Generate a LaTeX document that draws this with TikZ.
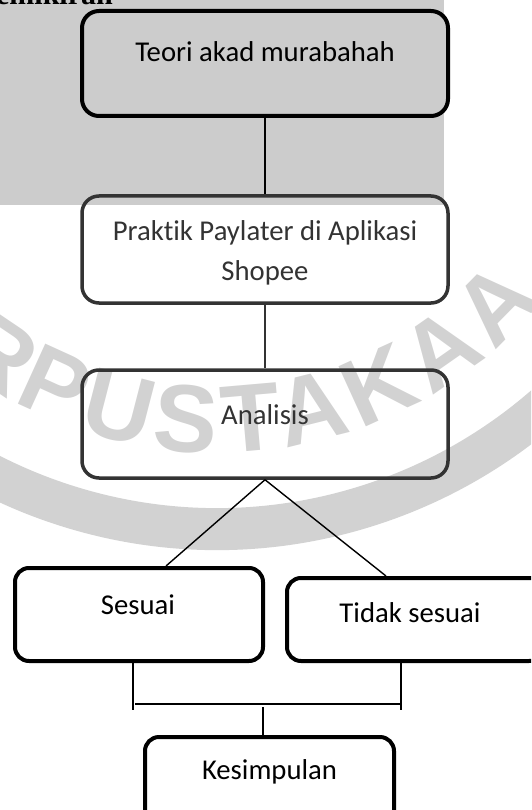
\documentclass[tikz,border=0pt]{standalone}
\usepackage{fontspec}
\setmainfont{Carlito}[Ligatures=NoCommon]
\newfontfamily\serifbold{Liberation Serif}
\newfontfamily\wmfont{Liberation Sans}
\usetikzlibrary{calc}
\definecolor{bggrey}{RGB}{204,204,204}
\definecolor{wmgrey}{RGB}{210,210,210}
\definecolor{dk}{RGB}{51,51,51}
\begin{document}
\begin{tikzpicture}[x=1pt,y=1pt,
  box/.style={draw, line width=4pt, rounded corners=17pt, inner sep=0pt},
  smallbox/.style={box, rounded corners=14pt},
  txt/.style={font=\fontsize{28.7}{40}\selectfont, inner sep=0pt, align=center},
  conn/.style={line width=1.4pt},
  wm/.style={font=\wmfont\bfseries\fontsize{96}{96}\selectfont, text=wmgrey, inner sep=0pt}]
\useasboundingbox (0,0) rectangle (531,-810);
\clip (0,0) rectangle (531,-810);
\fill[bggrey] (0,0) rectangle (444,-205);
\node[font=\serifbold\bfseries\fontsize{30}{30}\selectfont, anchor=base east, inner sep=0pt] (head) at (113,-5) {Pemikiran};
% watermark
\coordinate (wc) at (217,-30);
\fill[wmgrey] ($(wc)+(-160:520)$) arc[start angle=-160, end angle=-20, radius=520]
  -- ($(wc)+(-20:478)$) arc[start angle=-20, end angle=-160, radius=478] -- cycle;
\foreach \ch/\a [count=\i] in {R/-124, P/-114.5, U/-104.5, S/-94.5, T/-85, A/-76, K/-65.5, A/-55, A/-44.5}
  \node[wm, rotate=\a+90] (wm\i) at ($(wc)+(\a:390)$) {\ch};
% boxes
\node[box, fill=bggrey, minimum width=366, minimum height=105] (teori) at (265,-63.5) {};
\node[txt] (teoriT) at (265,-52) {Teori akad murabahah};
\node[box, draw=dk, line width=3.5pt, minimum width=366, minimum height=107] (praktik) at (265,-249.5) {};
\node[txt, text=dk] (praktikT) at (265,-253) {Praktik Paylater di Aplikasi\\Shopee};
\node[box, draw=dk, line width=3.5pt, minimum width=366, minimum height=108] (analisis) at (265,-424) {};
\node[txt, text=dk] (analisisT) at (265,-415) {Analisis};
\node[smallbox, minimum width=248, minimum height=93] (sesuai) at (139,-614.5) {};
\node[txt] (sesuaiT) at (138,-605) {Sesuai};
\node[smallbox, minimum width=256, minimum height=83] (tidak) at (415,-619.5) {};
\node[txt] (tidakT) at (410,-613) {Tidak sesuai};
\node[smallbox, minimum width=249, minimum height=93] (kes) at (269.5,-783.5) {};
\node[txt] (kesT) at (269.5,-772) {Kesimpulan};
% connectors
\draw[conn] (teori.south) -- (praktik.north);
\draw[conn, draw=dk] (praktik.south) -- (analisis.north);
\draw[conn] (analisis.south) -- ($(sesuai.north)+(27,0)$);
\draw[conn] (analisis.south) -- ($(tidak.north)+(-29,0)$);
\coordinate (lt) at ($(sesuai.south)+(-6,4)$);
\coordinate (lb) at (133,-710);
\coordinate (rt) at ($(tidak.south)+(-14,4)$);
\coordinate (rb) at (401,-710);
\coordinate (hl) at (135,-704);
\coordinate (hr) at (401,-704);
\coordinate (mt) at (263,-707);
\draw[conn] (lt) -- (lb);
\draw[conn] (rt) -- (rb);
\draw[conn] (hl) -- (hr);
\draw[conn] (mt) -- (mt |- kes.north);
\end{tikzpicture}
\end{document}
